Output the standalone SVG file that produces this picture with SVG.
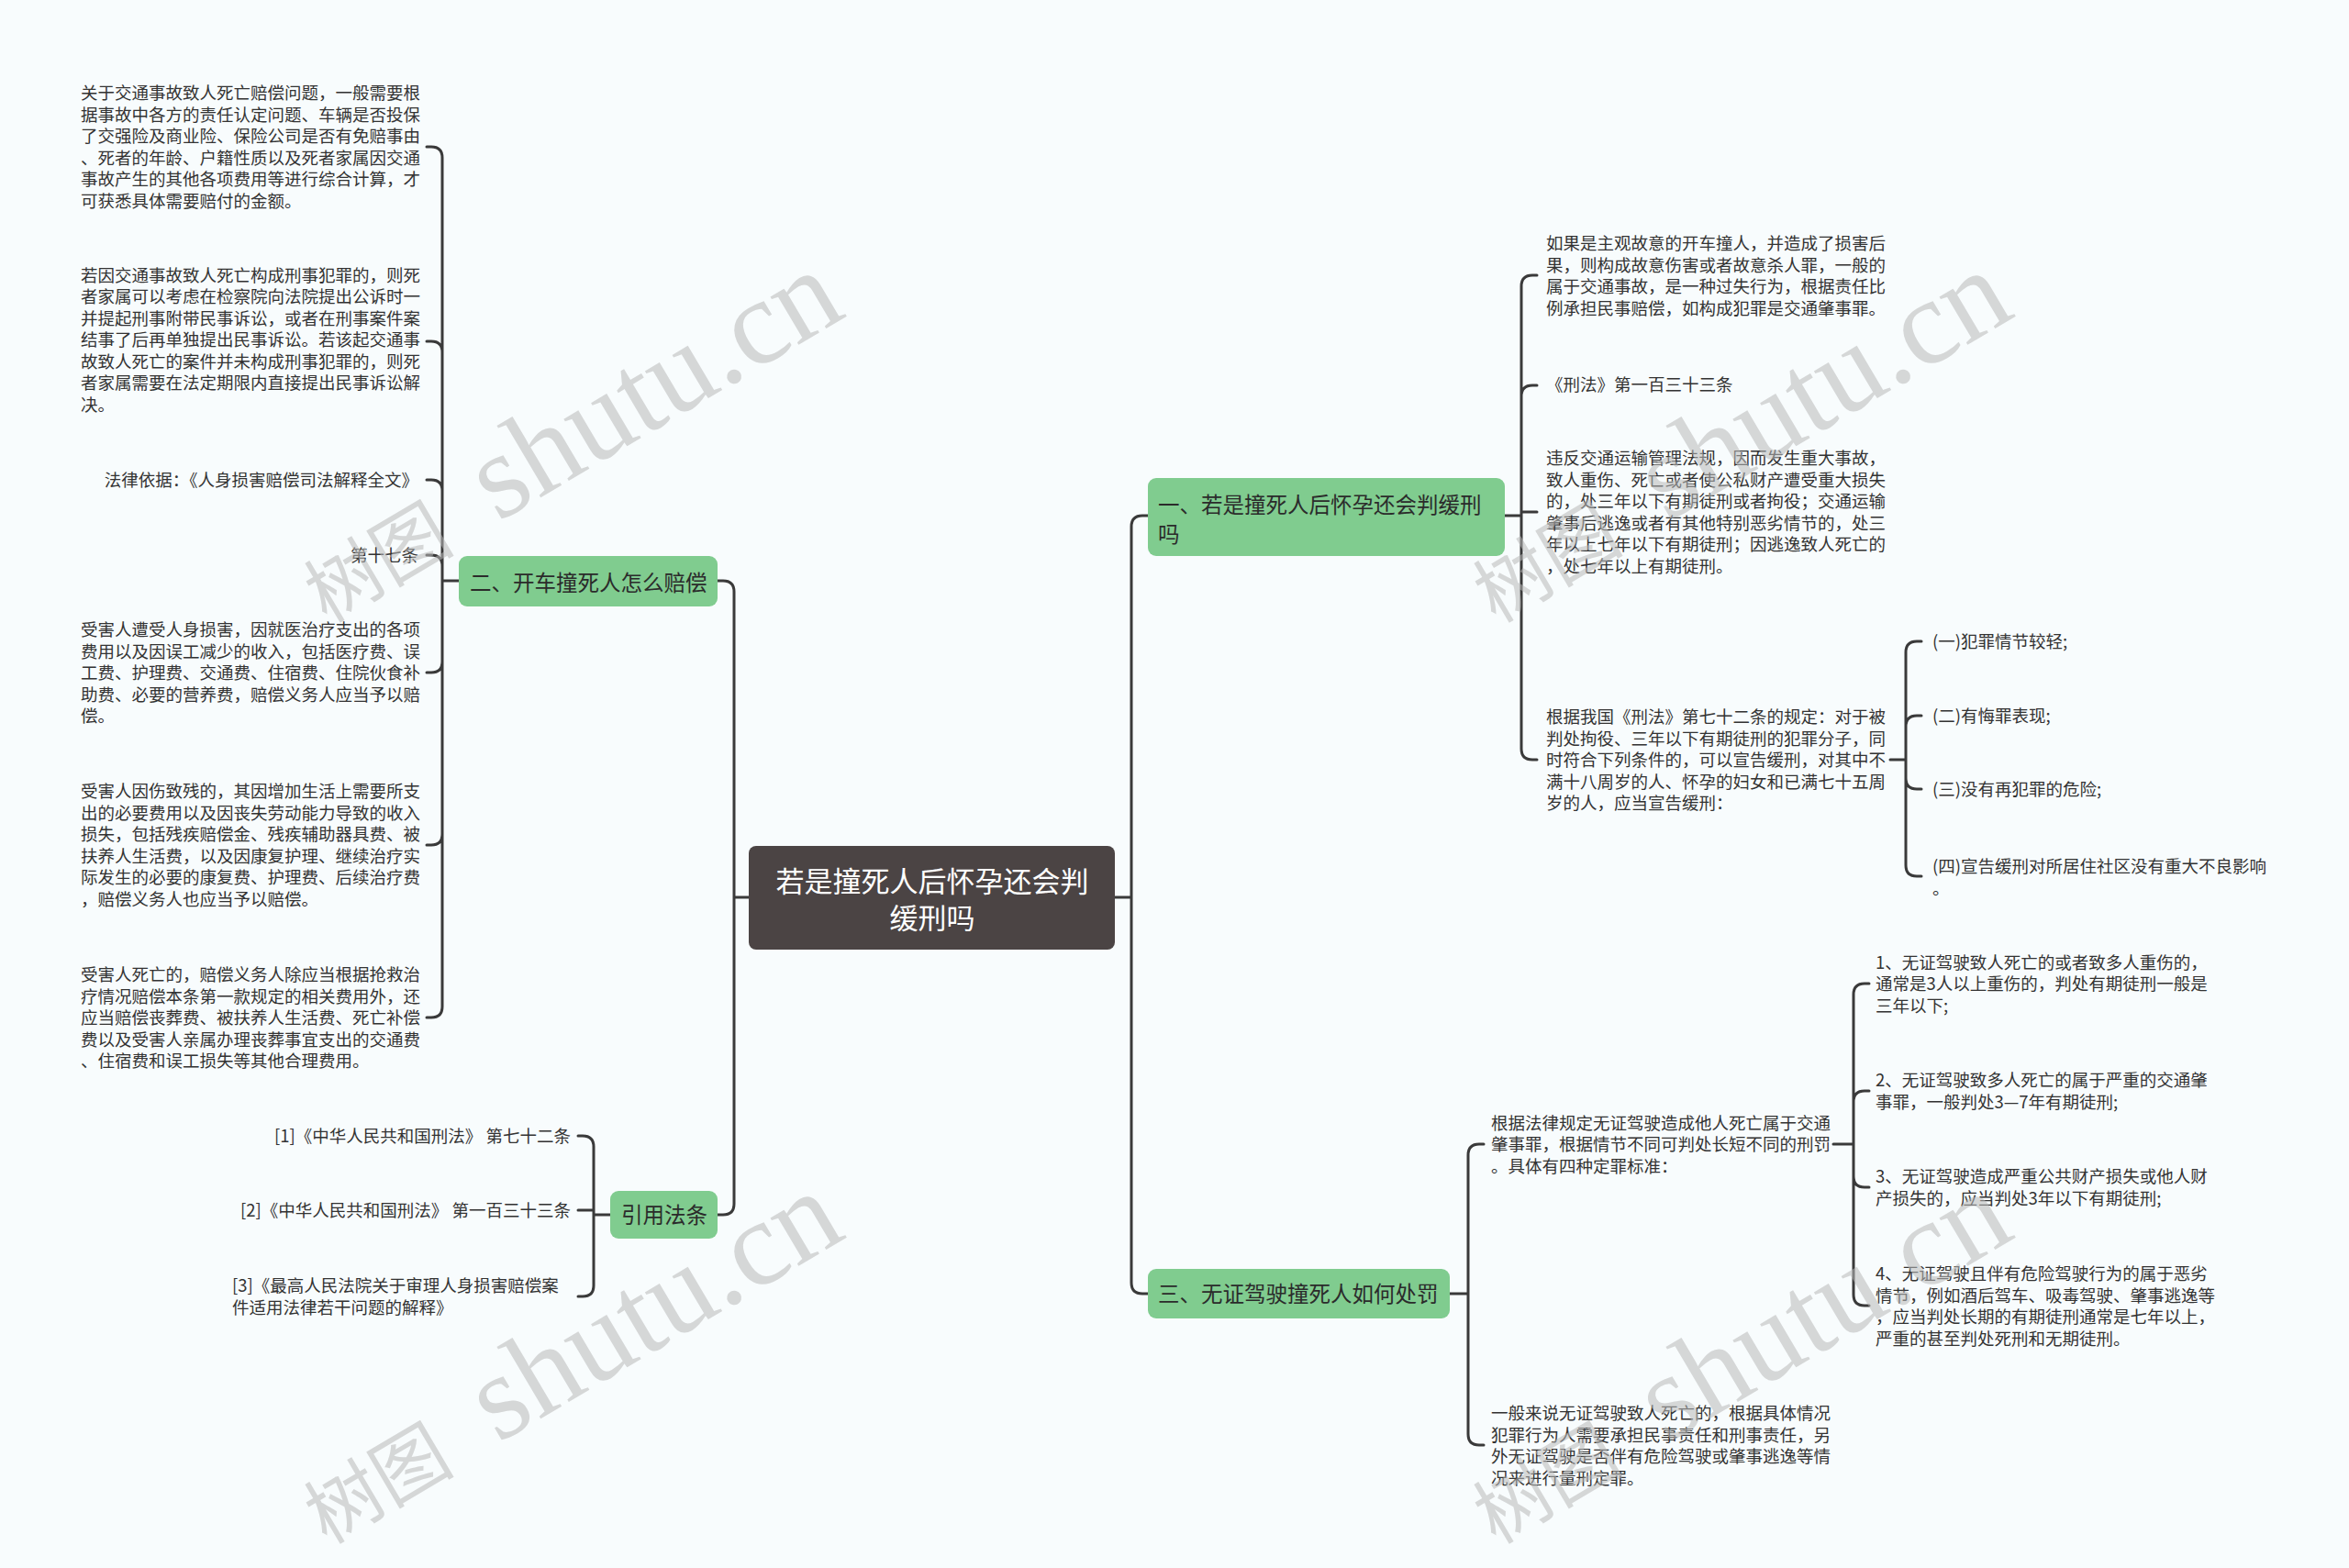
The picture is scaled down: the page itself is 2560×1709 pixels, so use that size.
<svg xmlns="http://www.w3.org/2000/svg" width="2560" height="1709" viewBox="0 0 2560 1709">
<style>
.bg{fill:#f8fcfd}
.ln{fill:none;stroke:#3a3a3a;stroke-width:3;stroke-linecap:round}
.root{fill:#4b4444}
.grn{fill:#80cc8f}
.rt{font-family:"Noto Sans CJK SC","Noto Sans",sans-serif;font-size:31px;fill:#ffffff;text-anchor:middle}
.nt{font-family:"Noto Sans CJK SC","Noto Sans",sans-serif;font-size:23.5px;fill:#2b2b2b}
.lf{font-family:"Noto Sans CJK SC","Noto Sans",sans-serif;font-size:18.5px;fill:#333333}
.end{text-anchor:end}
.wm{fill:#b8b8b8;fill-opacity:0.55}
.wmc{font-family:"Noto Sans CJK SC",sans-serif;font-size:82px}
.wml{font-family:"Liberation Serif","Noto Sans CJK SC",serif;font-size:132px}
</style>
<rect class="bg" x="0" y="0" width="2560" height="1709"/>

<g id="connectors">
<path class="ln" d="M816 978H800M800 978V645Q800 633 788 633H782M800 978V1312Q800 1324 788 1324H782"/>
<path class="ln" d="M1215 978H1233M1233 978V574Q1233 562 1245 562H1251M1233 978V1398Q1233 1410 1245 1410H1251"/>
<path class="ln" d="M500 633H482M482 633V172Q482 160 470 160H465M482 633V384Q482 372 470 372H465M482 633V535Q482 523 470 523H465M482 633V617Q482 605 470 605H465M482 633V721Q482 733 470 733H465M482 633V909Q482 921 470 921H465M482 633V1097Q482 1109 470 1109H465"/>
<path class="ln" d="M665 1324H647M647 1324V1250Q647 1238 635 1238H630M647 1319H630M647 1324V1401Q647 1413 635 1413H630"/>
<path class="ln" d="M1640 562H1658M1658 562V312Q1658 300 1670 300H1675M1658 562V432Q1658 420 1670 420H1675M1658 558H1675M1658 562V816Q1658 828 1670 828H1675"/>
<path class="ln" d="M2060 828H2077M2077 828V711Q2077 699 2089 699H2094M2077 828V792Q2077 780 2089 780H2094M2077 828V848Q2077 860 2089 860H2094M2077 828V943Q2077 955 2089 955H2094"/>
<path class="ln" d="M1580 1410H1600M1600 1410V1259Q1600 1247 1612 1247H1617M1600 1410V1563Q1600 1575 1612 1575H1617"/>
<path class="ln" d="M1998 1247H2020M2020 1247V1084Q2020 1072 2032 1072H2037M2020 1247V1201Q2020 1189 2032 1189H2037M2020 1247V1282Q2020 1294 2032 1294H2037M2020 1247V1411Q2020 1423 2032 1423H2037"/>
</g>

<g id="root">
<rect class="root" x="816" y="922" width="399" height="113" rx="8"/>
<text class="rt"><tspan x="1016" y="972">若是撞死人后怀孕还会判</tspan><tspan x="1016" y="1012">缓刑吗</tspan></text>
</g>

<g id="n1">
<rect class="grn" x="1251" y="521" width="389" height="85" rx="9"/>
<text class="nt"><tspan x="1262" y="559">一、若是撞死人后怀孕还会判缓刑</tspan><tspan x="1262" y="591">吗</tspan></text>
</g>
<g id="n2">
<rect class="grn" x="500" y="606" width="282" height="55" rx="9"/>
<text class="nt" x="512" y="644">二、开车撞死人怎么赔偿</text>
</g>
<g id="n3">
<rect class="grn" x="1251" y="1383" width="329" height="54" rx="9"/>
<text class="nt" x="1262" y="1419">三、无证驾驶撞死人如何处罚</text>
</g>
<g id="n4">
<rect class="grn" x="665" y="1298" width="117" height="52" rx="9"/>
<text class="nt" x="677" y="1333">引用法条</text>
</g>

<g id="l2a">
<text class="lf"><tspan x="88" y="108">关于交通事故致人死亡赔偿问题，一般需要根</tspan><tspan x="88" y="131.5">据事故中各方的责任认定问题、车辆是否投保</tspan><tspan x="88" y="155">了交强险及商业险、保险公司是否有免赔事由</tspan><tspan x="88" y="178.5">、死者的年龄、户籍性质以及死者家属因交通</tspan><tspan x="88" y="202">事故产生的其他各项费用等进行综合计算，才</tspan><tspan x="88" y="225.5">可获悉具体需要赔付的金额。</tspan></text>
</g>
<g id="l2b">
<text class="lf"><tspan x="88" y="306.5">若因交通事故致人死亡构成刑事犯罪的，则死</tspan><tspan x="88" y="330">者家属可以考虑在检察院向法院提出公诉时一</tspan><tspan x="88" y="353.5">并提起刑事附带民事诉讼，或者在刑事案件案</tspan><tspan x="88" y="377">结事了后再单独提出民事诉讼。若该起交通事</tspan><tspan x="88" y="400.5">故致人死亡的案件并未构成刑事犯罪的，则死</tspan><tspan x="88" y="424">者家属需要在法定期限内直接提出民事诉讼解</tspan><tspan x="88" y="447.5">决。</tspan></text>
</g>
<g id="l2c">
<text class="lf end" x="456" y="530">法律依据：《人身损害赔偿司法解释全文》</text>
</g>
<g id="l2d">
<text class="lf end" x="456" y="612">第十七条</text>
</g>
<g id="l2e">
<text class="lf"><tspan x="88" y="693">受害人遭受人身损害，因就医治疗支出的各项</tspan><tspan x="88" y="716.5">费用以及因误工减少的收入，包括医疗费、误</tspan><tspan x="88" y="740">工费、护理费、交通费、住宿费、住院伙食补</tspan><tspan x="88" y="763.5">助费、必要的营养费，赔偿义务人应当予以赔</tspan><tspan x="88" y="787">偿。</tspan></text>
</g>
<g id="l2f">
<text class="lf"><tspan x="88" y="869">受害人因伤致残的，其因增加生活上需要所支</tspan><tspan x="88" y="892.5">出的必要费用以及因丧失劳动能力导致的收入</tspan><tspan x="88" y="916">损失，包括残疾赔偿金、残疾辅助器具费、被</tspan><tspan x="88" y="939.5">扶养人生活费，以及因康复护理、继续治疗实</tspan><tspan x="88" y="963">际发生的必要的康复费、护理费、后续治疗费</tspan><tspan x="88" y="986.5">，赔偿义务人也应当予以赔偿。</tspan></text>
</g>
<g id="l2g">
<text class="lf"><tspan x="88" y="1069">受害人死亡的，赔偿义务人除应当根据抢救治</tspan><tspan x="88" y="1092.5">疗情况赔偿本条第一款规定的相关费用外，还</tspan><tspan x="88" y="1116">应当赔偿丧葬费、被扶养人生活费、死亡补偿</tspan><tspan x="88" y="1139.5">费以及受害人亲属办理丧葬事宜支出的交通费</tspan><tspan x="88" y="1163">、住宿费和误工损失等其他合理费用。</tspan></text>
</g>

<g id="r1">
<text class="lf end" x="622" y="1245">[1]《中华人民共和国刑法》 第七十二条</text>
</g>
<g id="r2">
<text class="lf end" x="622" y="1326">[2]《中华人民共和国刑法》 第一百三十三条</text>
</g>
<g id="r3">
<text class="lf"><tspan x="253" y="1408">[3]《最高人民法院关于审理人身损害赔偿案</tspan><tspan x="253" y="1431.5">件适用法律若干问题的解释》</tspan></text>
</g>

<g id="l1a">
<text class="lf"><tspan x="1685" y="272">如果是主观故意的开车撞人，并造成了损害后</tspan><tspan x="1685" y="295.5">果，则构成故意伤害或者故意杀人罪，一般的</tspan><tspan x="1685" y="319">属于交通事故，是一种过失行为，根据责任比</tspan><tspan x="1685" y="342.5">例承担民事赔偿，如构成犯罪是交通肇事罪。</tspan></text>
</g>
<g id="l1b">
<text class="lf" x="1685" y="426">《刑法》第一百三十三条</text>
</g>
<g id="l1c">
<text class="lf"><tspan x="1685" y="506">违反交通运输管理法规，因而发生重大事故，</tspan><tspan x="1685" y="529.5">致人重伤、死亡或者使公私财产遭受重大损失</tspan><tspan x="1685" y="553">的，处三年以下有期徒刑或者拘役；交通运输</tspan><tspan x="1685" y="576.5">肇事后逃逸或者有其他特别恶劣情节的，处三</tspan><tspan x="1685" y="600">年以上七年以下有期徒刑；因逃逸致人死亡的</tspan><tspan x="1685" y="623.5">，处七年以上有期徒刑。</tspan></text>
</g>
<g id="l1d">
<text class="lf"><tspan x="1685" y="788">根据我国《刑法》第七十二条的规定：对于被</tspan><tspan x="1685" y="811.5">判处拘役、三年以下有期徒刑的犯罪分子，同</tspan><tspan x="1685" y="835">时符合下列条件的，可以宣告缓刑，对其中不</tspan><tspan x="1685" y="858.5">满十八周岁的人、怀孕的妇女和已满七十五周</tspan><tspan x="1685" y="882">岁的人，应当宣告缓刑：</tspan></text>
</g>
<g id="d1"><text class="lf" x="2106" y="706">(一)犯罪情节较轻;</text></g>
<g id="d2"><text class="lf" x="2106" y="787">(二)有悔罪表现;</text></g>
<g id="d3"><text class="lf" x="2106" y="867">(三)没有再犯罪的危险;</text></g>
<g id="d4"><text class="lf"><tspan x="2106" y="951">(四)宣告缓刑对所居住社区没有重大不良影响</tspan><tspan x="2106" y="974.5">。</tspan></text></g>

<g id="l3a">
<text class="lf"><tspan x="1625" y="1230.5">根据法律规定无证驾驶造成他人死亡属于交通</tspan><tspan x="1625" y="1254">肇事罪，根据情节不同可判处长短不同的刑罚</tspan><tspan x="1625" y="1277.5">。具体有四种定罪标准：</tspan></text>
</g>
<g id="e1"><text class="lf"><tspan x="2044" y="1055.5">1、无证驾驶致人死亡的或者致多人重伤的，</tspan><tspan x="2044" y="1079">通常是3人以上重伤的，判处有期徒刑一般是</tspan><tspan x="2044" y="1102.5">三年以下;</tspan></text></g>
<g id="e2"><text class="lf"><tspan x="2044" y="1184">2、无证驾驶致多人死亡的属于严重的交通肇</tspan><tspan x="2044" y="1207.5">事罪，一般判处3—7年有期徒刑;</tspan></text></g>
<g id="e3"><text class="lf"><tspan x="2044" y="1289">3、无证驾驶造成严重公共财产损失或他人财</tspan><tspan x="2044" y="1312.5">产损失的，应当判处3年以下有期徒刑;</tspan></text></g>
<g id="e4"><text class="lf"><tspan x="2044" y="1395">4、无证驾驶且伴有危险驾驶行为的属于恶劣</tspan><tspan x="2044" y="1418.5">情节，例如酒后驾车、吸毒驾驶、肇事逃逸等</tspan><tspan x="2044" y="1442">，应当判处长期的有期徒刑通常是七年以上，</tspan><tspan x="2044" y="1465.5">严重的甚至判处死刑和无期徒刑。</tspan></text></g>
<g id="l3b">
<text class="lf"><tspan x="1625" y="1547">一般来说无证驾驶致人死亡的，根据具体情况</tspan><tspan x="1625" y="1570.5">犯罪行为人需要承担民事责任和刑事责任，另</tspan><tspan x="1625" y="1594">外无证驾驶是否伴有危险驾驶或肇事逃逸等情</tspan><tspan x="1625" y="1617.5">况来进行量刑定罪。</tspan></text>
</g>

<g id="watermarks" class="wm">
<text transform="translate(356 680) rotate(-30.6)"><tspan class="wmc">树图</tspan><tspan class="wml" dx="20"> shutu.cn</tspan></text>
<text transform="translate(1630 680) rotate(-30.6)"><tspan class="wmc">树图</tspan><tspan class="wml" dx="20"> shutu.cn</tspan></text>
<text transform="translate(356 1684) rotate(-30.6)"><tspan class="wmc">树图</tspan><tspan class="wml" dx="20"> shutu.cn</tspan></text>
<text transform="translate(1630 1684) rotate(-30.6)"><tspan class="wmc">树图</tspan><tspan class="wml" dx="20"> shutu.cn</tspan></text>
</g>
</svg>
